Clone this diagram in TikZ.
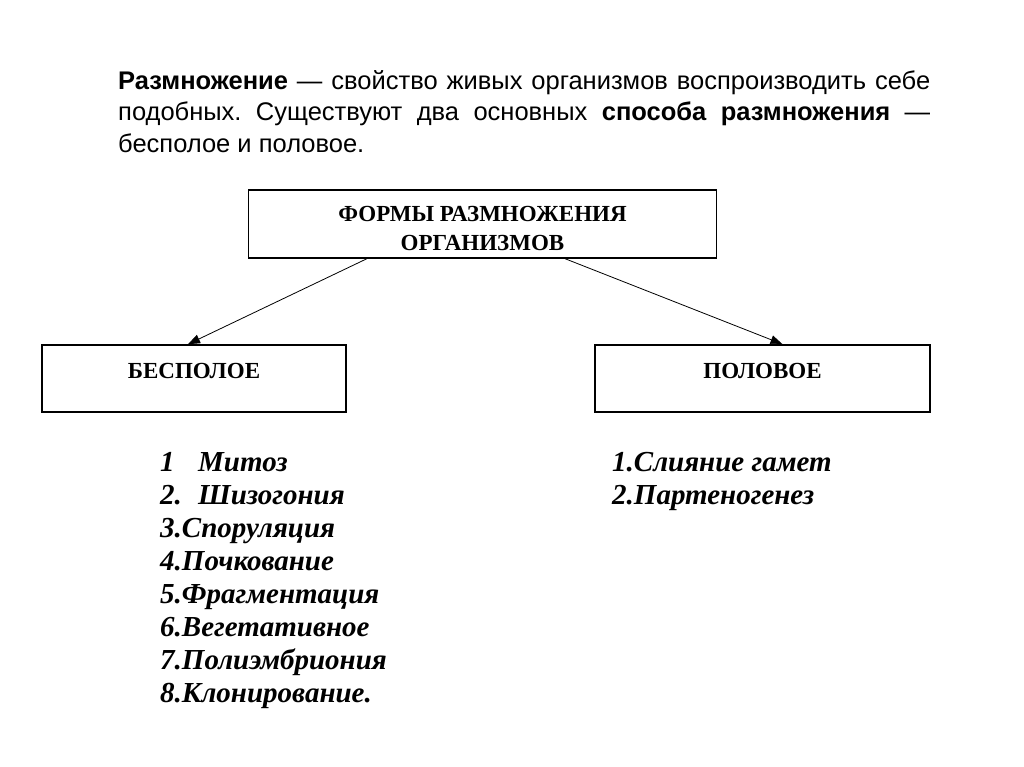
\documentclass[tikz,border=0pt]{standalone}
\usepackage{fontspec}
\setmainfont{Liberation Serif}
\setsansfont{Liberation Sans}
\frenchspacing
\usetikzlibrary{arrows.meta, positioning}
\tikzstyle{box} = [rectangle, line width=1.6pt, draw=black, align=center, font=\bfseries\fontsize{23}{28}\selectfont]
\tikzstyle{item} = [inner sep=0pt, anchor=base west, font=\bfseries\itshape\fontsize{29}{33}\selectfont]
\tikzstyle{arrow} = [line width=0.8pt, -{Triangle[length=12pt,width=9pt]}]

\begin{document}
\begin{tikzpicture}[x=1pt, y=-1pt]
	\useasboundingbox (0,0) rectangle (1024,767);
	\node (Intro) [anchor=north west, inner sep=0pt, text width=812pt, align=justify, font=\sffamily\fontsize{25.5}{31.5}\selectfont] at (118,70) {\textbf{Размножение} — свойство живых организмов воспроизводить себе\linebreak подобных. Существуют два основных \textbf{способа размножения} —\linebreak бесполое и половое.};
	\node (Forms) [box, minimum width=468pt, minimum height=68pt] at (482.5,224) {\rule{0pt}{24pt}ФОРМЫ РАЗМНОЖЕНИЯ\\[1pt]ОРГАНИЗМОВ};
	\node (Asexual) [box, minimum width=304pt, minimum height=67pt, text height=16pt, text depth=16pt] at (194,378.5) {БЕСПОЛОЕ};
	\node (Sexual) [box, minimum width=335pt, minimum height=67pt, text height=16pt, text depth=16pt] at (762.5,378.5) {ПОЛОВОЕ};
	\draw [arrow] ([xshift=119pt]Forms.south west) -- ([xshift=-6pt]Asexual.north);
	\draw [arrow] ([xshift=-152pt]Forms.south east) -- ([xshift=20pt]Sexual.north);
	\foreach \txt [count=\i from 0] in {\makebox[38pt][l]{1}Митоз, \makebox[38pt][l]{2.}Шизогония, 3.Споруляция, 4.Почкование, 5.Фрагментация, 6.Вегетативное, 7.Полиэмбриония, 8.Клонирование.}
		\node (asex\i) [item] at (160,471+33*\i) {\txt};
	\foreach \txt [count=\i from 0] in {1.Слияние гамет, 2.Партеногенез}
		\node (sex\i) [item] at (612,471+33*\i) {\txt};
\end{tikzpicture}
\end{document}
